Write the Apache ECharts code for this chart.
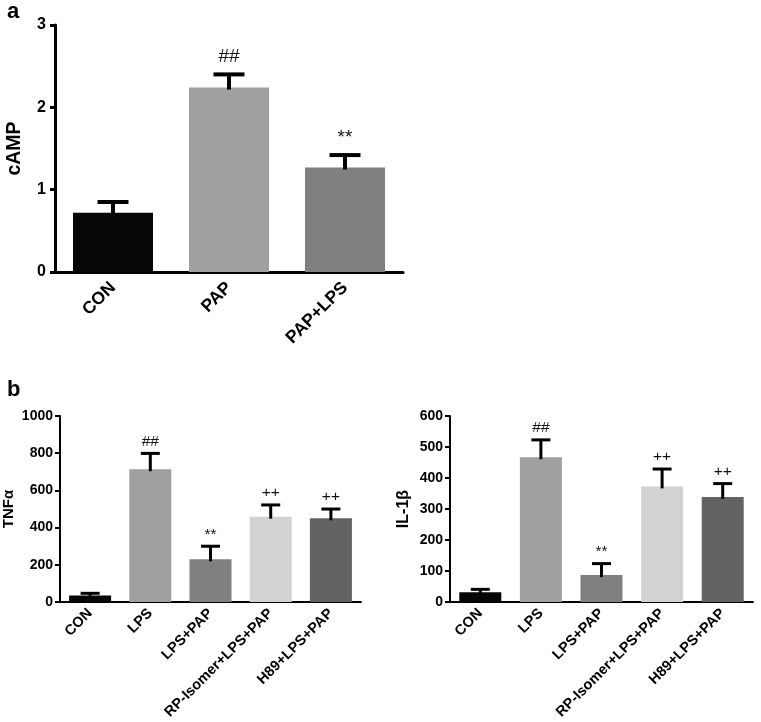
<!DOCTYPE html>
<html>
<head>
<meta charset="utf-8">
<script src="https://cdn.jsdelivr.net/npm/echarts@6/dist/echarts.min.js"></script>
<style>
html,body{margin:0;padding:0;background:#fff;}
#c{width:761px;height:722px;}
</style>
</head>
<body>
<div id="c"></div>
<script>
// ---- data ----
const catsA = ['CON', 'PAP', 'PAP+LPS'];
const camp = [0.72, 2.24, 1.27];
const campErr = [0.13, 0.16, 0.15];
const marksA = ['', '##', '**'];

const catsB = ['CON', 'LPS', 'LPS+PAP', 'RP-Isomer+LPS+PAP', 'H89+LPS+PAP'];
const tnf = [35, 714, 230, 459, 450];
const tnfErr = [12, 85, 70, 63, 50];
const il1b = [32, 467, 87, 373, 339];
const il1bErr = [9, 56, 37, 56, 43];
const marksB = ['', '##', '**', '++', '++'];

// ---- styles ----
const FONT = '"Liberation Sans", Arial, sans-serif';
const colorsA = ['#060606', '#a0a0a0', '#808080'];
const colorsB = ['#060606', '#a0a0a0', '#808080', '#d2d2d2', '#636363'];

const chart = echarts.init(document.getElementById('c'), null, {renderer: 'canvas'});

function errRender(capW, lw, fs, gap, marks) {
  return function (params, api) {
    const i = api.value(0), m = api.value(1), e = api.value(2);
    const b = api.coord([i, m]);
    const t = api.coord([i, m + e]);
    const st = {stroke: '#000', lineWidth: lw};
    const children = [
      {type: 'line', shape: {x1: b[0], y1: b[1] + 2, x2: t[0], y2: t[1]}, style: st},
      {type: 'line', shape: {x1: t[0] - capW / 2, y1: t[1], x2: t[0] + capW / 2, y2: t[1]}, style: st}
    ];
    const txt = marks[params.dataIndex];
    if (txt) {
      children.push({type: 'text', style: {text: txt, x: t[0], y: t[1] - gap, align: 'center',
        verticalAlign: 'bottom', fontSize: fs, fontFamily: FONT, fill: '#111'}});
    }
    return {type: 'group', children};
  };
}

function xAx(idx, cats, fs, lw, margin) {
  return {
    type: 'category', gridIndex: idx, data: cats,
    axisLine: {lineStyle: {color: '#000', width: lw}},
    axisTick: {alignWithLabel: true, length: 6, lineStyle: {color: '#000', width: lw}},
    axisLabel: {rotate: 45, interval: 0, margin: margin, color: '#000', fontWeight: 'bold', fontSize: fs, fontFamily: FONT}
  };
}
function yAx(idx, max, interval, name, fs, nfs, lw, gap, margin) {
  return {
    type: 'value', gridIndex: idx, min: 0, max: max, interval: interval,
    name: name, nameLocation: 'middle', nameGap: gap,
    nameTextStyle: {color: '#000', fontWeight: 'bold', fontSize: nfs, fontFamily: FONT},
    splitLine: {show: false},
    axisLine: {show: true, lineStyle: {color: '#000', width: lw}},
    axisTick: {show: true, length: 5, lineStyle: {color: '#000', width: lw}},
    axisLabel: {color: '#000', fontWeight: 'bold', fontSize: fs, fontFamily: FONT, margin: margin,
      formatter: v => String(v)}
  };
}

const option = {
  backgroundColor: '#fff',
  animation: false,
  title: [
    {text: 'a', left: 2, top: -4, textStyle: {fontSize: 22, fontWeight: 'bold', fontFamily: FONT, color: '#000'}},
    {text: 'b', left: 2, top: 374, textStyle: {fontSize: 22, fontWeight: 'bold', fontFamily: FONT, color: '#000'}}
  ],
  grid: [
    {left: 55, right: 358, top: 25, bottom: 450},
    {left: 60, right: 400, top: 416, bottom: 119},
    {left: 450, right: 8, top: 416, bottom: 119}
  ],
  xAxis: [
    xAx(0, catsA, 17.5, 3, 13),
    xAx(1, catsB, 14.5, 2, 9),
    xAx(2, catsB, 14.5, 2, 9)
  ],
  yAxis: [
    yAx(0, 3, 1, 'cAMP', 16, 19.5, 3, 30, 9),
    yAx(1, 1000, 200, 'TNFα', 14, 15, 2, 44, 7),
    yAx(2, 600, 100, 'IL-1β', 14, 16, 2, 38, 7)
  ],
  series: [
    {type: 'bar', xAxisIndex: 0, yAxisIndex: 0, barWidth: 80,
     data: camp.map((v, i) => ({value: v, itemStyle: {color: colorsA[i]}}))},
    {type: 'custom', xAxisIndex: 0, yAxisIndex: 0, z: 5,
     renderItem: errRender(31, 4, 19, 8, marksA), encode: {x: 0, y: 1},
     data: camp.map((v, i) => [i, v, campErr[i]])},
    {type: 'bar', xAxisIndex: 1, yAxisIndex: 1, barWidth: 42,
     data: tnf.map((v, i) => ({value: v, itemStyle: {color: colorsB[i]}}))},
    {type: 'custom', xAxisIndex: 1, yAxisIndex: 1, z: 5,
     renderItem: errRender(19, 3, 15.5, 4, marksB), encode: {x: 0, y: 1},
     data: tnf.map((v, i) => [i, v, tnfErr[i]])},
    {type: 'bar', xAxisIndex: 2, yAxisIndex: 2, barWidth: 42,
     data: il1b.map((v, i) => ({value: v, itemStyle: {color: colorsB[i]}}))},
    {type: 'custom', xAxisIndex: 2, yAxisIndex: 2, z: 5,
     renderItem: errRender(19, 3, 15.5, 4, marksB), encode: {x: 0, y: 1},
     data: il1b.map((v, i) => [i, v, il1bErr[i]])}
  ]
};
chart.setOption(option);
</script>
</body>
</html>
